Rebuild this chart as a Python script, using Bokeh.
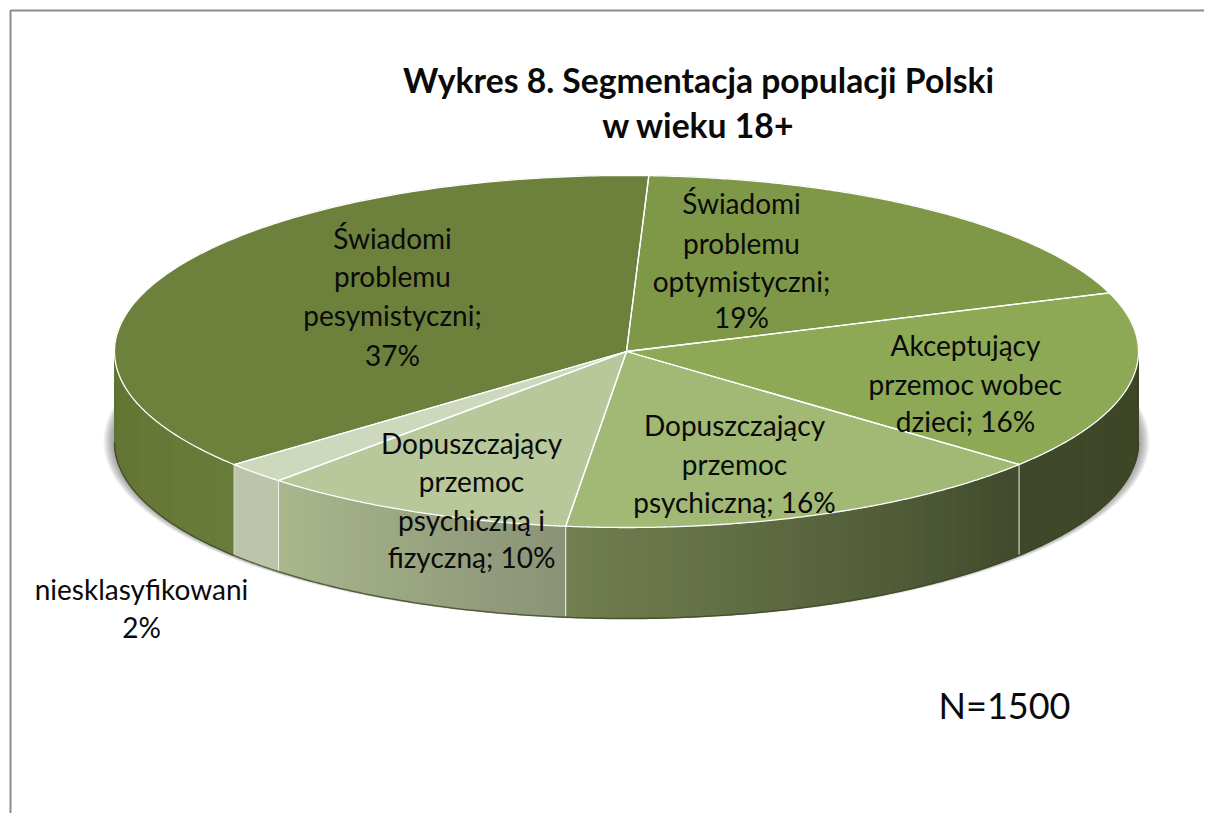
import numpy as np
from bokeh.plotting import figure
from bokeh.models import Range1d
from bokeh.core.properties import value
from bokeh.embed import file_html
from bokeh.resources import INLINE

# ---- data (clockwise from the back of the pie); shares,
# the printed labels carry the rounded percentages
categories = ["Świadomi problemu optymistyczni", "Akceptujący przemoc wobec dzieci",
              "Dopuszczający przemoc psychiczną", "Dopuszczający przemoc psychiczną i fizyczną",
              "niesklasyfikowani", "Świadomi problemu pesymistyczni"]
values = [18.9, 16.5, 15.8, 10.0, 2.0, 36.8]
top_colors = ["#7f9848", "#8ea955", "#a1b975", "#b8c89b", "#cdd8bd", "#6d813c"]
title_lines = ["Wykres 8. Segmentacja populacji Polski", "w wieku 18+"]
note = "N=1500"
label_lines = [
    ["Świadomi", "problemu", "optymistyczni;", "19%"],
    ["Akceptujący", "przemoc wobec", "dzieci; 16%"],
    ["Dopuszczający", "przemoc", "psychiczną; 16%"],
    ["Dopuszczający", "przemoc", "psychiczną i", "fizyczną; 10%"],
    ["niesklasyfikowani", "2%"],
    ["Świadomi", "problemu", "pesymistyczni;", "37%"],
]

# ---- layout
CX, CY, RX, RY, DEPTH, START = 626.0, 351.0, 512.0, 176.0, 91.0, 2.5
label_pos = [(741, [202, 242, 280, 316]), (965, [344, 383, 420]), (734, [424, 463, 501]),
             (471, [442, 480, 519, 556]), (141, [588, 626]), (392, [237, 275, 314, 354])]
FONT = "Lato"
wall_stops = [  # per slice: (colour at slice start, colour at slice end) clockwise
    ("#3d4624", "#3d4624"), ("#3d4624", "#3f482a"), ("#404a2c", "#727f50"),
    ("#8a9377", "#aab78d"), ("#bcc5aa", "#bcc5aa"), ("#6a7c3a", "#4f6028"),
]

def ex(t): return CX + RX * np.sin(np.radians(t))
def ey(t): return CY - RY * np.cos(np.radians(t))
def hex2rgb(h): return np.array([int(h[i:i + 2], 16) for i in (1, 3, 5)], float)
def mix(a, b, f):
    c = hex2rgb(a) * (1 - f) + hex2rgb(b) * f
    return "#%02x%02x%02x" % tuple(int(round(v)) for v in c)

p = figure(width=1204, height=813, x_range=Range1d(0, 1204), y_range=Range1d(813, 0),
           toolbar_location=None, output_backend="svg", min_border=0)
p.axis.visible = False
p.grid.visible = False
p.outline_line_color = None
p.background_fill_color = "white"

# frame (left and top only; the rest is cropped away)
p.line([10, 10, 1204], [813, 10, 10], line_color="#8c8c8c", line_width=2)

# soft shadow under the pie
tt = np.linspace(0, 360, 361)
for i in range(9):
    g = 1 - i / 8
    p.patch(CX + (RX + 2 + 9 * g) * np.sin(np.radians(tt)),
            CY + DEPTH - 1 + (RY + 2 * g) * np.cos(np.radians(tt)),
            fill_color="#555555", fill_alpha=0.07, line_color=None)

# angle boundaries come from the values
edges = START + np.cumsum([0] + values) * 3.6

# side wall: thin gradient strips, front half only
xs, ys, cols = [], [], []
seams = []
for k, v in enumerate(values):
    a, b = edges[k], edges[k + 1]
    lo, hi = max(a, 90.0), min(b, 270.0)
    if 90.0 < a < 270.0:
        seams.append(a)
    if lo >= hi:
        continue
    n = max(2, int((hi - lo) * 1.5))
    gr = np.linspace(lo, hi, n + 1)
    for j in range(n):
        t0, t1 = gr[j], gr[j + 1]
        f = ((t0 + t1) / 2 - a) / (b - a)
        xs.append([ex(t0), ex(t1), ex(t1), ex(t0)])
        ys.append([ey(t0), ey(t1), ey(t1) + DEPTH, ey(t0) + DEPTH])
        cols.append(mix(wall_stops[k][0], wall_stops[k][1], f))
p.patches(xs, ys, fill_color=cols, line_color=cols, line_width=1)

# dark lower edge of the wall
front = np.linspace(90, 270, 361)
p.line(ex(front), ey(front) + DEPTH, line_color="#3a4522", line_width=1.5, line_alpha=0.75)

# white vertical seams on the wall
for a in seams:
    p.line([ex(a), ex(a)], [ey(a), ey(a) + DEPTH - 1], line_color="#f2f2ea", line_width=1)

# top face
for k, v in enumerate(values):
    t = np.linspace(edges[k], edges[k + 1], 200)
    px = np.concatenate([[CX], ex(t)])
    py = np.concatenate([[CY], ey(t)])
    p.patch(px, py, fill_color=top_colors[k], line_color=top_colors[k], line_width=0.5)
for k, v in enumerate(values):
    t = np.linspace(edges[k], edges[k + 1], 200)
    p.line(np.concatenate([[CX], ex(t), [CX]]), np.concatenate([[CY], ey(t), [CY]]),
           line_color="white", line_width=1.3)

# texts
def put(x, y, s, size, style="normal"):
    p.text([x], [y], text=[s], text_font=value(FONT), text_font_size=size, text_font_style=style,
           text_align="center", text_baseline="middle", text_color="#0a0a0a")

for (cx, yy), lines in zip(label_pos, label_lines):
    for y, s in zip(yy, lines):
        put(cx, y, s, "28px")
put(698, 79, title_lines[0], "33.7px", "bold")
put(698, 124, title_lines[1], "33.7px", "bold")
put(1004, 704, note, "36px")

open("out.html", "w").write(file_html(p, INLINE))
